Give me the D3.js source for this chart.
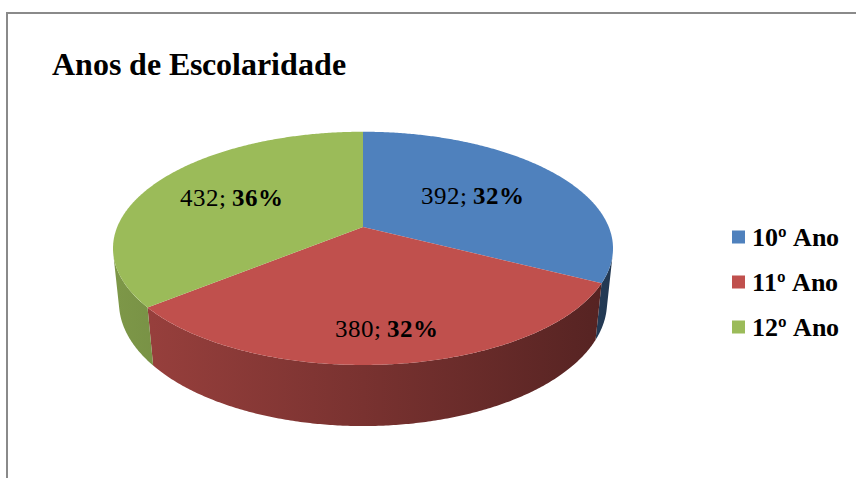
<!DOCTYPE html>
<html><head><meta charset="utf-8"><script src="https://cdn.jsdelivr.net/npm/d3@7"></script>
<style>
  @font-face { font-family: "ChartSerif"; font-weight: normal; src: local("Liberation Serif"), local("LiberationSerif"), local("Tinos"), local("DejaVu Serif"); }
  @font-face { font-family: "ChartSerif"; font-weight: bold; src: local("Liberation Serif Bold"), local("LiberationSerif-Bold"), local("Tinos Bold"), local("DejaVu Serif Bold"); }
  svg text { font-family: "ChartSerif", "Liberation Serif", Tinos, "DejaVu Serif"; }
</style>
</head>
<body style="margin:0">
<script>
var categories = ["10º Ano", "11º Ano", "12º Ano"];
var values = [392, 380, 432];
var percentLabels = ["32%", "32%", "36%"];
var colors = ["#4f81bd", "#c0504d", "#9bbb59"];

var width = 856, height = 478;

// 3d pie setup (perspective roughly like excel's default)
var cfg = {
  cx: 363,
  cy: 227,
  focal: 1193,
  dist: 4.854,
  tilt: Math.asin(0.4586),
  thick: 0.25,
  labelRadius: [0.55, 0.78, 0.62],
  fontSize: 25
}

function project(theta, r, h){
  var X = r*Math.sin(theta), Z = -r*Math.cos(theta);
  var depth = cfg.dist - h*Math.sin(cfg.tilt) - Z*Math.cos(cfg.tilt);
  return [cfg.cx + cfg.focal*X/depth,
          cfg.cy - cfg.focal*(h*Math.cos(cfg.tilt) - Z*Math.sin(cfg.tilt))/depth];
}

function arcPoints(a0, a1, h){
  var n = Math.max(2, Math.ceil(Math.abs(a1-a0)/(Math.PI/360)));
  return d3.range(n+1).map(function(i){ return project(a0 + (a1-a0)*i/n, 1, h) });
}

var svg = d3.select('body').append('svg')
  .attr('width', width).attr('height', height);

svg.append('rect')
  .attr('x', 7).attr('y', 13)
  .attr('width', 900).attr('height', 500)
  .attr('fill', 'none')
  .attr('stroke', '#8a8a8a')
  .attr('stroke-width', 2);

svg.append('text')
  .attr('x', 52).attr('y', 75)
  .attr('font-size', '32px')
  .attr('font-weight', 'bold')
  .text('Anos de Escolaridade');

var pie = d3.pie().sort(null).value(function(d){return d});
var slices = pie(values);

var line = d3.line();
var defs = svg.append('defs');

// outer wall faces the viewer only in this angle range
var visLimit = Math.acos(-1/(cfg.dist*Math.cos(cfg.tilt)));
var visStart = visLimit, visEnd = 2*Math.PI - visLimit;

var left = project(-Math.PI/2, 1, 0)[0], right = project(Math.PI/2, 1, 0)[0];

slices.forEach(function(s, i){
  var g = defs.append('linearGradient')
    .attr('id', 'wall' + i)
    .attr('gradientUnits', 'userSpaceOnUse')
    .attr('x1', left).attr('x2', right).attr('y1', 0).attr('y2', 0);
  var c = d3.color(colors[i]);
  g.append('stop').attr('offset', 0).attr('stop-color', c.darker(0.6));
  g.append('stop').attr('offset', 0.5).attr('stop-color', c.darker(1.3));
  g.append('stop').attr('offset', 1).attr('stop-color', c.darker(2.3));
});

var walls = svg.append('g');
slices.forEach(function(s, i){
  var lo = Math.max(s.startAngle, visStart), hi = Math.min(s.endAngle, visEnd);
  if (hi <= lo) return;
  var pts = arcPoints(lo, hi, 0).concat(arcPoints(hi, lo, -cfg.thick));
  walls.append('path')
    .attr('d', line(pts) + 'Z')
    .attr('fill', 'url(#wall' + i + ')');
});

var tops = svg.append('g');
tops.selectAll('path')
  .data(slices)
  .enter()
    .append('path')
    .attr('d', function(d){
      var pts = [project(0, 0, 0)].concat(arcPoints(d.startAngle, d.endAngle, 0));
      return line(pts) + 'Z';
    })
    .attr('fill', function(d, i){ return colors[i] });

var labels = svg.append('g');
slices.forEach(function(s, i){
  var p = project((s.startAngle + s.endAngle)/2, cfg.labelRadius[i], 0);
  var t = labels.append('text')
    .attr('x', p[0]).attr('y', p[1] + 8)
    .attr('text-anchor', 'middle')
    .attr('font-size', cfg.fontSize + 'px');
  t.append('tspan').text(values[i] + '; ');
  t.append('tspan').attr('font-weight', 'bold').text(percentLabels[i]);
});

var legend = svg.append('g');
var rows = legend.selectAll('g')
  .data(categories)
  .enter()
    .append('g')
    .attr('transform', function(d, i){ return 'translate(732,' + (237 + i*45) + ')' });

rows.append('rect')
  .attr('x', 0).attr('y', -6.5)
  .attr('width', 13).attr('height', 13)
  .attr('fill', function(d, i){ return colors[i] });

rows.append('text')
  .attr('x', 20).attr('y', 9)
  .attr('font-size', '26px')
  .attr('font-weight', 'bold')
  .text(function(d){ return d });
</script>
</body>
</html>
